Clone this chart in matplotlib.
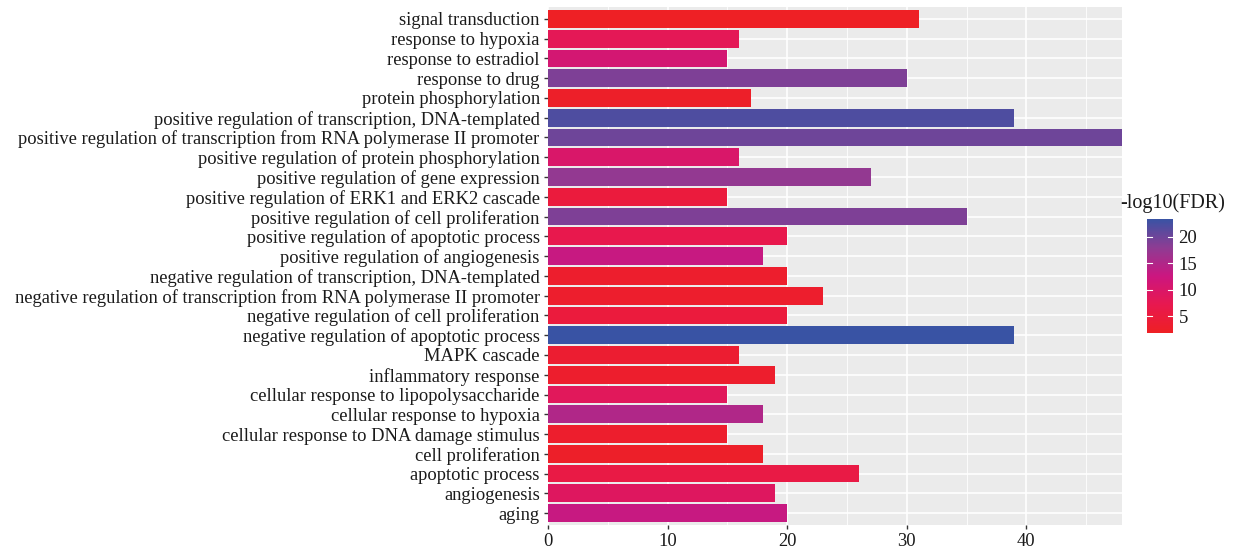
import numpy as np
import matplotlib
matplotlib.use('Agg')
import matplotlib.pyplot as plt
from matplotlib.colors import LinearSegmentedColormap, Normalize
from matplotlib.ticker import MultipleLocator

plt.rcParams['font.family'] = ['Liberation Serif', 'DejaVu Serif']

# GO terms, bottom to top as drawn
terms = [
    'aging', 'angiogenesis', 'apoptotic process', 'cell proliferation',
    'cellular response to DNA damage stimulus', 'cellular response to hypoxia',
    'cellular response to lipopolysaccharide', 'inflammatory response',
    'MAPK cascade', 'negative regulation of apoptotic process',
    'negative regulation of cell proliferation',
    'negative regulation of transcription from RNA polymerase II promoter',
    'negative regulation of transcription, DNA-templated',
    'positive regulation of angiogenesis',
    'positive regulation of apoptotic process',
    'positive regulation of cell proliferation',
    'positive regulation of ERK1 and ERK2 cascade',
    'positive regulation of gene expression',
    'positive regulation of protein phosphorylation',
    'positive regulation of transcription from RNA polymerase II promoter',
    'positive regulation of transcription, DNA-templated',
    'protein phosphorylation', 'response to drug', 'response to estradiol',
    'response to hypoxia', 'signal transduction',
]
counts = [20, 19, 26, 18, 15, 18, 15, 19, 16, 39, 20, 23, 20, 18, 20, 35, 15,
          27, 16, 48, 39, 17, 30, 15, 16, 31]
neglog_fdr = [13, 9, 6, 2.5, 3, 15, 8.5, 3, 3.5, 23.4, 5, 3, 3, 13, 7, 19, 5,
              17.5, 10, 20, 22, 2.5, 19, 11, 8, 2]

cmap = LinearSegmentedColormap.from_list(
    'fdr', [(0, '#EE2024'), (0.25, '#E8184F'), (0.5, '#CB1680'),
            (0.75, '#8E3C93'), (1, '#3953A4')])
norm = Normalize(vmin=1.8, vmax=23.4)

fig = plt.figure(figsize=(12.34, 5.5), dpi=100)
ax = fig.add_axes([548/1234, 25/550, 574/1234, 518/550])
ax.set_facecolor('#EBEBEB')

y = np.arange(len(terms))
ax.barh(y, counts, height=0.9, color=cmap(norm(neglog_fdr)), zorder=3)

ax.set_xlim(0, 48)
ax.set_ylim(-0.6, len(terms) - 0.4)
ax.xaxis.set_major_locator(MultipleLocator(10))
ax.xaxis.set_minor_locator(MultipleLocator(5))
ax.set_yticks(y)
ax.set_yticklabels(terms)
ax.grid(True, which='major', color='white', linewidth=1.2, zorder=1)
ax.grid(True, which='minor', axis='x', color='white', linewidth=0.6, zorder=1)
for s in ax.spines.values():
    s.set_visible(False)
ax.tick_params(axis='both', which='major', length=3, width=1, color='#333333',
               labelsize=13.3, labelcolor='#1a1a1a', pad=3)
ax.tick_params(axis='x', which='minor', length=0)

# colour bar
cax = fig.add_axes([1147/1234, 217/550, 26/1234, 114/550])
sm = plt.cm.ScalarMappable(norm=norm, cmap=cmap)
cb = fig.colorbar(sm, cax=cax, ticks=[5, 10, 15, 20])
cb.outline.set_visible(False)
cax.tick_params(length=0, labelsize=13.5, labelcolor='#1a1a1a', pad=4)
for t in [5, 10, 15, 20]:
    cax.plot([0, 0.2], [t, t], color='white', lw=0.8, transform=cax.get_yaxis_transform())
    cax.plot([0.8, 1], [t, t], color='white', lw=0.8, transform=cax.get_yaxis_transform())
fig.text(1120/1234, 1 - 203/550, '-log10(FDR)', fontsize=14.5, color='#1a1a1a',
         ha='left', va='center')

fig.savefig('out.png', dpi=100)
